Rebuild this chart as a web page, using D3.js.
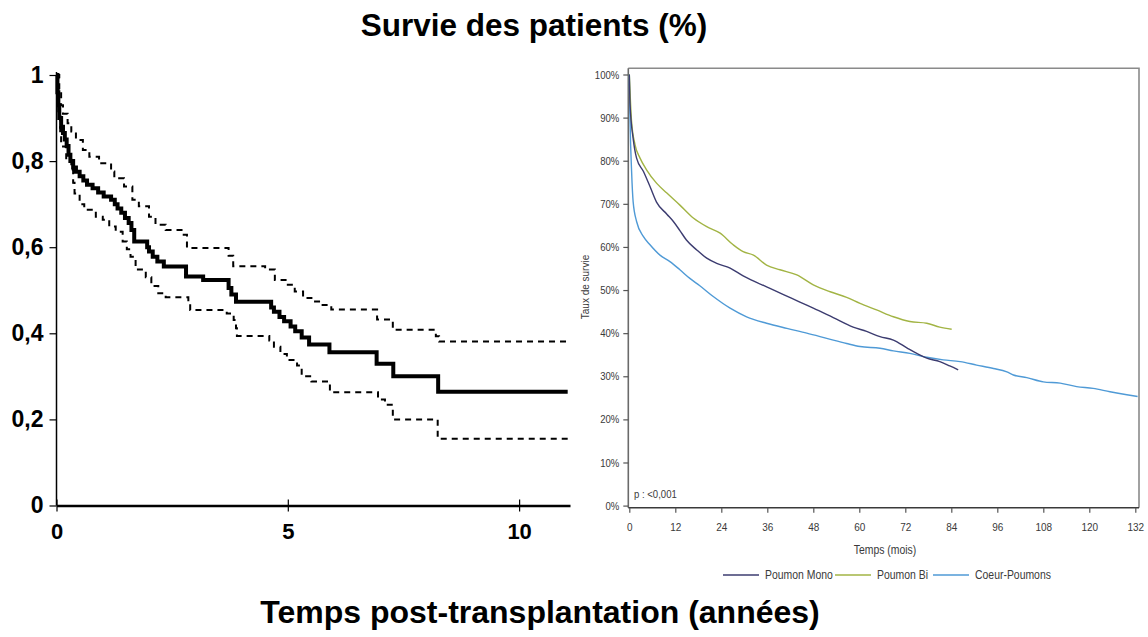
<!DOCTYPE html>
<html>
<head>
<meta charset="utf-8">
<script src="https://cdn.jsdelivr.net/npm/d3@7"></script>
<style>
  html, body { margin: 0; padding: 0; background: #fff; }
  svg { display: block; }
</style>
</head>
<body>
<svg id="chart" width="1148" height="637"></svg>
<script>
// ---- Left panel: Kaplan-Meier estimate (years), with 95% confidence band ----
// Each row: [time in years, survival from that time on]
const kmTime = [0, 0.02, 0.04, 0.06, 0.10, 0.14, 0.18, 0.22, 0.26, 0.30, 0.36, 0.42, 0.50, 0.58, 0.66, 0.78, 0.90, 1.02, 1.18, 1.26, 1.32, 1.40, 1.48, 1.56, 1.62, 1.68, 1.96, 2.00, 2.08, 2.18, 2.32, 2.80, 3.17, 3.72, 3.78, 3.88, 4.64, 4.70, 4.82, 4.92, 5.06, 5.16, 5.30, 5.46, 5.90, 6.92, 7.28, 8.25, 11.05];
const kmSurv = [1.0, 0.96, 0.93, 0.90, 0.88, 0.865, 0.85, 0.835, 0.815, 0.80, 0.785, 0.775, 0.765, 0.755, 0.745, 0.737, 0.727, 0.718, 0.71, 0.70, 0.69, 0.68, 0.668, 0.656, 0.64, 0.613, 0.60, 0.59, 0.578, 0.567, 0.555, 0.532, 0.524, 0.505, 0.49, 0.473, 0.46, 0.45, 0.438, 0.428, 0.416, 0.405, 0.39, 0.374, 0.356, 0.329, 0.30, 0.264, 0.264];

const upperTime = [0, 0.06, 0.10, 0.14, 0.24, 0.32, 0.42, 0.57, 0.71, 0.92, 1.18, 1.25, 1.46, 1.64, 1.78, 2.00, 2.14, 2.36, 2.75, 2.82, 3.72, 3.82, 4.51, 4.72, 5.00, 5.15, 5.33, 5.51, 5.73, 5.94, 6.93, 7.27, 8.20, 8.27, 11.05];
const upperSurv = [1.0, 0.96, 0.93, 0.91, 0.888, 0.869, 0.849, 0.826, 0.81, 0.795, 0.776, 0.76, 0.741, 0.71, 0.695, 0.671, 0.652, 0.64, 0.629, 0.598, 0.58, 0.556, 0.548, 0.524, 0.513, 0.497, 0.482, 0.474, 0.466, 0.455, 0.432, 0.408, 0.393, 0.381, 0.381];

const lowerTime = [0, 0.04, 0.08, 0.10, 0.21, 0.32, 0.36, 0.39, 0.50, 0.60, 0.85, 1.00, 1.14, 1.28, 1.43, 1.52, 1.60, 1.71, 1.93, 2.05, 2.20, 2.36, 2.85, 2.89, 3.68, 3.83, 3.88, 3.90, 4.60, 4.70, 4.84, 4.98, 5.20, 5.30, 5.51, 5.91, 6.95, 7.10, 7.27, 8.24, 11.05];
const lowerSurv = [1.0, 0.91, 0.86, 0.834, 0.803, 0.78, 0.75, 0.725, 0.70, 0.687, 0.671, 0.664, 0.648, 0.636, 0.613, 0.595, 0.578, 0.548, 0.53, 0.51, 0.493, 0.484, 0.47, 0.454, 0.446, 0.431, 0.412, 0.394, 0.383, 0.369, 0.352, 0.338, 0.325, 0.30, 0.288, 0.263, 0.246, 0.234, 0.20, 0.155, 0.155];

const leftYTicks = [0, 0.2, 0.4, 0.6, 0.8, 1];
const leftXTicks = [0, 5, 10];

// ---- Right panel: survival by transplant type (months, %) ----
const monthTicks = [0, 12, 24, 36, 48, 60, 72, 84, 96, 108, 120, 132];
const pctTicks = [0, 10, 20, 30, 40, 50, 60, 70, 80, 90, 100];
const seriesNames = ["Poumon Mono", "Poumon Bi", "Coeur-Poumons"];
const seriesColors = ["#3c3c70", "#a2b444", "#4f9ad6"];

const monoMonths = [0, 0.2, 1, 1.9, 3.7, 5.4, 7.1, 9.8, 11.5, 13.2, 14.9, 17.6, 20.2, 22.8, 26.3, 29.7, 33.2, 36.7, 41.1, 44.5, 48, 53.2, 58.4, 61.9, 65.4, 68.9, 72.4, 75, 77.6, 81, 83.6, 85.8];
const monoPct    = [100, 93, 85.2, 80.6, 77.5, 74, 70.4, 67.6, 65.9, 63.8, 61.6, 59.3, 57.4, 56.2, 55.1, 53.3, 51.8, 50.4, 48.6, 47.2, 45.8, 43.6, 41.4, 40.4, 39.2, 38.4, 36.6, 35.3, 34.2, 33.4, 32.4, 31.5];

const biMonths = [0, 0.6, 1.5, 2.8, 4.5, 7.1, 9.8, 13.2, 16.7, 20.2, 23.7, 27.1, 29.7, 32.4, 35.8, 39.3, 43.7, 48, 52.4, 56.7, 60.2, 64.5, 68.9, 73.2, 77.6, 81, 84.1];
const biPct    = [100, 89, 83.7, 80.6, 77.9, 74.8, 72.5, 69.7, 66.7, 64.7, 63.2, 60.5, 58.9, 58.1, 55.8, 54.7, 53.5, 51.2, 49.6, 48.3, 46.9, 45.4, 43.8, 42.7, 42.3, 41.4, 40.9];

const cpMonths = [0, 0.2, 0.6, 1, 1.9, 3.7, 5.4, 8, 10.6, 13.2, 15.8, 18.4, 21.9, 26.3, 30.6, 35.8, 41.1, 46.3, 51.5, 56.7, 60.2, 65.4, 68.9, 73.2, 77.6, 81.9, 86.3, 90.6, 95, 98.5, 100.2, 103.7, 108, 112.4, 116.7, 121, 125.4, 129.8, 132.6];
const cpPct    = [100, 89, 77.5, 70.5, 65.9, 62.4, 60.5, 58.1, 56.6, 54.7, 52.7, 51, 48.5, 45.8, 43.8, 42.3, 41.1, 40, 38.8, 37.6, 36.9, 36.5, 35.9, 35.3, 34.4, 33.8, 33.4, 32.6, 31.8, 31, 30.3, 29.7, 28.7, 28.4, 27.6, 27.2, 26.4, 25.7, 25.3];

const svg = d3.select("#chart");
const boldFont = "'Liberation Sans', Arial, sans-serif";
const thinFont = "'Liberation Sans', Arial, sans-serif";
const narrow = 0.87; // horizontal squeeze for the condensed labels of the right panel

// ---------- Titles ----------
svg.append("text")
  .attr("x", 534).attr("y", 36)
  .attr("text-anchor", "middle")
  .style("font-family", boldFont).style("font-weight", "bold").style("font-size", "31.5px")
  .text("Survie des patients (%)");

svg.append("text")
  .attr("x", 540).attr("y", 623)
  .attr("text-anchor", "middle")
  .style("font-family", boldFont).style("font-weight", "bold").style("font-size", "32px")
  .text("Temps post-transplantation (années)");

// ---------- Left panel ----------
const xL = d3.scaleLinear().domain([0, 11.1]).range([56.5, 570]);
const yL = d3.scaleLinear().domain([0, 1]).range([505.5, 75]);

const left = svg.append("g");

const yAxisL = d3.axisLeft(yL)
  .tickValues(leftYTicks)
  .tickSizeInner(7).tickSizeOuter(0).tickPadding(6)
  .tickFormat(d => d === 0 ? "0" : d === 1 ? "1" : d.toFixed(1).replace(".", ","));
const gyL = left.append("g").attr("transform", `translate(${xL(0)},0)`).call(yAxisL);
gyL.select(".domain").attr("d", `M0,${yL(1) - 3}V${yL(0)}`).attr("stroke", "#000").attr("stroke-width", 1.5);
gyL.selectAll(".tick line").attr("stroke", "#000").attr("stroke-width", 1.2);
gyL.selectAll(".tick text")
  .style("font-family", boldFont).style("font-weight", "bold").style("font-size", "23px").attr("fill", "#000");

const xAxisL = d3.axisBottom(xL)
  .tickValues(leftXTicks)
  .tickSizeInner(5).tickSizeOuter(0).tickPadding(13)
  .tickFormat(d3.format("d"));
const gxL = left.append("g").attr("transform", `translate(0,${yL(0)})`).call(xAxisL);
gxL.select(".domain").attr("stroke", "#000").attr("stroke-width", 2.5);
gxL.selectAll(".tick line").attr("y1", -6).attr("y2", 6).attr("stroke", "#000").attr("stroke-width", 1.2);
gxL.selectAll(".tick text")
  .style("font-family", boldFont).style("font-weight", "bold").style("font-size", "22px").attr("fill", "#000");

const stepLine = d3.line()
  .x(d => xL(d[0])).y(d => yL(d[1]))
  .curve(d3.curveStepAfter);

const zipPts = (ts, vs) => ts.map((t, i) => [t, vs[i]]);

left.append("path")
  .datum(zipPts(upperTime, upperSurv))
  .attr("d", stepLine).attr("fill", "none")
  .attr("stroke", "#000").attr("stroke-width", 2).attr("stroke-dasharray", "6,5");
left.append("path")
  .datum(zipPts(lowerTime, lowerSurv))
  .attr("d", stepLine).attr("fill", "none")
  .attr("stroke", "#000").attr("stroke-width", 2).attr("stroke-dasharray", "6,5");
left.append("path")
  .datum(zipPts(kmTime, kmSurv))
  .attr("d", stepLine).attr("fill", "none")
  .attr("stroke", "#000").attr("stroke-width", 4).attr("stroke-linejoin", "miter");

// ---------- Right panel ----------
const xR = d3.scaleLinear().domain([0, 132]).range([629.3, 1135.3]);
const yR = d3.scaleLinear().domain([0, 100]).range([505.6, 74.5]);
const frame = { x0: 628.3, x1: 1139, y0: 68.3, y1: 507.7 };

const right = svg.append("g");

// frame top and right edges
right.append("path")
  .attr("d", `M${frame.x0},${frame.y0}H${frame.x1}V${frame.y1}`)
  .attr("fill", "none").attr("stroke", "#8a8a8a").attr("stroke-width", 1.6);

const yAxisR = d3.axisLeft(yR)
  .tickValues(pctTicks).tickSizeInner(5).tickSizeOuter(0).tickPadding(3)
  .tickFormat(d => d + "%");
const gyR = right.append("g").attr("transform", `translate(${frame.x0},0)`).call(yAxisR);
gyR.select(".domain").attr("d", `M0,${frame.y0}V${frame.y1}`).attr("stroke", "#6a6a6a").attr("stroke-width", 1.6);
gyR.selectAll(".tick line").attr("stroke", "#555").attr("stroke-width", 1.2);
gyR.selectAll(".tick text")
  .attr("transform", `scale(${narrow},1)`)
  .attr("x", -9 / narrow)
  .style("font-family", thinFont).style("font-size", "11px").attr("fill", "#3a3a3a");

const xAxisR = d3.axisBottom(xR)
  .tickValues(monthTicks).tickSizeInner(5).tickSizeOuter(0).tickPadding(10);
const gxR = right.append("g").attr("transform", `translate(0,${frame.y1})`).call(xAxisR);
gxR.select(".domain").attr("d", `M${frame.x0},0H${frame.x1}`).attr("stroke", "#3a3a3a").attr("stroke-width", 1.6);
gxR.selectAll(".tick line").attr("stroke", "#555").attr("stroke-width", 1.2);
gxR.selectAll(".tick text")
  .attr("transform", `scale(${narrow},1)`)
  .style("font-family", thinFont).style("font-size", "11.5px").attr("fill", "#3a3a3a");

right.append("text")
  .attr("transform", `translate(589,287) rotate(-90) scale(${narrow},1)`)
  .attr("text-anchor", "middle")
  .style("font-family", thinFont).style("font-size", "11.5px").attr("fill", "#3a3a3a")
  .text("Taux de survie");

right.append("text")
  .attr("transform", `translate(885,554) scale(${narrow},1)`)
  .attr("text-anchor", "middle")
  .style("font-family", thinFont).style("font-size", "12px").attr("fill", "#3a3a3a")
  .text("Temps (mois)");

right.append("text")
  .attr("transform", `translate(634,498) scale(${narrow},1)`)
  .style("font-family", thinFont).style("font-size", "11px").attr("fill", "#3a3a3a")
  .text("p : <0,001");

const survLine = d3.line().x(d => xR(d[0])).y(d => yR(d[1])).curve(d3.curveMonotoneX);
const seriesData = [zipPts(monoMonths, monoPct), zipPts(biMonths, biPct), zipPts(cpMonths, cpPct)];

// draw Coeur-Poumons first so the other two sit on top where they cross
[2, 1, 0].forEach(i => {
  right.append("path")
    .datum(seriesData[i])
    .attr("d", survLine).attr("fill", "none")
    .attr("stroke", seriesColors[i]).attr("stroke-width", 1.4);
});

// legend
const legendItems = [
  { x: 723, name: seriesNames[0], color: seriesColors[0] },
  { x: 835, name: seriesNames[1], color: seriesColors[1] },
  { x: 933, name: seriesNames[2], color: seriesColors[2] }
];
const legend = right.append("g");
legendItems.forEach(it => {
  legend.append("line")
    .attr("x1", it.x).attr("x2", it.x + 36).attr("y1", 575).attr("y2", 575)
    .attr("stroke", it.color).attr("stroke-width", 1.4);
  legend.append("text")
    .attr("transform", `translate(${it.x + 42},579) scale(${narrow},1)`)
    .style("font-family", thinFont).style("font-size", "12px").attr("fill", "#3a3a3a")
    .text(it.name);
});
</script>
</body>
</html>
